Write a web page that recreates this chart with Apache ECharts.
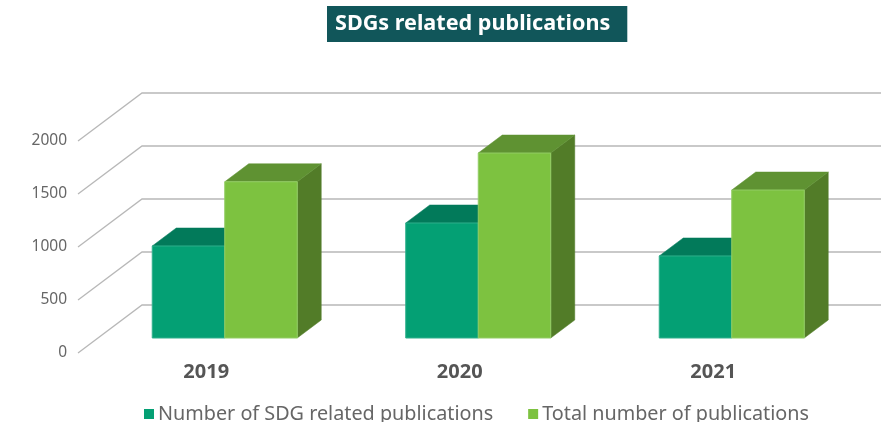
<!DOCTYPE html>
<html><head><meta charset="utf-8">
<style>html,body{margin:0;padding:0;background:#fff;overflow:hidden}#c{width:881px;height:422px}</style>
<script src="https://cdn.jsdelivr.net/npm/echarts@6/dist/echarts.min.js"></script>
</head><body><div id="c"></div>
<script>
const titleText = 'SDGs related publications';
const categories = ['2019', '2020', '2021'];
const yTicks = [0, 500, 1000, 1500, 2000];
const sdgName = 'Number of SDG related publications';
const totalName = 'Total number of publications';
const sdgValues = [868, 1085, 774];
const totalValues = [1474, 1745, 1396];

const chart = echarts.init(document.getElementById('c'), null, {renderer: 'canvas'});
// oblique projection, in pixels
const wallDX = 64, wallDY = 48, barOffX = 20, barOffY = 15, barDX = 24, barDY = 18, barRatio = 0.286;

function barRenderer(side, colors) {
  return function (params, api) {
    const base = api.coord([api.value(0), 0]);
    const top = api.coord([api.value(0), api.value(1)]);
    const w = api.size([1, 0])[0] * barRatio;
    const cx = base[0] + barOffX, y0 = base[1] - barOffY, y1 = top[1] - barOffY;
    const l = side < 0 ? cx - w : cx, r = l + w;
    const poly = (pts, fill, stroke) => ({type: 'polygon', shape: {points: pts}, style: {fill, stroke: stroke || fill, lineWidth: stroke ? 1 : 0.5}});
    return {type: 'group', children: [
      poly([[r, y0], [r + barDX, y0 - barDY], [r + barDX, y1 - barDY], [r, y1]], colors.side),
      poly([[l, y1], [r, y1], [r + barDX, y1 - barDY], [l + barDX, y1 - barDY]], colors.top),
      poly([[l, y0], [r, y0], [r, y1], [l, y1]], colors.front, colors.edge)
    ]};
  };
}
function gridRenderer(params, api) {
  const p = api.coord([0, api.value(1)]);
  const x0 = params.coordSys.x, y = p[1];
  return {type: 'polyline', shape: {points: [[x0, y], [x0 + wallDX, y - wallDY], [881, y - wallDY]]},
    style: {fill: 'none', stroke: '#b8b8b8', lineWidth: 1.3}, silent: true};
}
const sdgColors = {front: '#04a074', top: '#027a5a', side: '#02684d', edge: '#2fb08c'};
const totalColors = {front: '#7dc240', top: '#5f9232', side: '#527c28', edge: '#93cd65'};

chart.setOption({
  animation: false,
  backgroundColor: '#fff',
  title: {
    text: titleText, left: 327, top: 6,
    backgroundColor: '#11565a', padding: [6, 17, 7, 8],
    textStyle: {color: '#fff', fontFamily: 'Noto Sans', fontWeight: 'bold', fontSize: 21.6, lineHeight: 23}
  },
  legend: {
    left: 144, top: 404, padding: 0, itemWidth: 10, itemHeight: 10, itemGap: 35,
    icon: 'rect',
    data: [{name: sdgName, itemStyle: {color: sdgColors.front}}, {name: totalName, itemStyle: {color: totalColors.front}}],
    textStyle: {color: '#666', fontFamily: 'Noto Sans', fontSize: 19.8, padding: [0, 0, 0, -1]}
  },
  grid: {left: 78, top: 141, width: 760.5, height: 212},
  xAxis: {
    type: 'category', data: categories,
    axisLine: {show: false}, axisTick: {show: false},
    axisLabel: {color: '#555', fontFamily: 'Noto Sans', fontWeight: 'bold', fontSize: 20, margin: 9, padding: [0, 0, 0, 3]}
  },
  yAxis: {
    type: 'value', min: 0, max: 2000, interval: 500,
    axisLine: {show: false}, axisTick: {show: false}, splitLine: {show: false},
    axisLabel: {color: '#666', fontFamily: 'Noto Sans', fontSize: 15.5, margin: 11, padding: [0, 0, 6, 0],
      formatter: v => String(v)}
  },
  series: [
    {type: 'custom', name: 'grid', silent: true, clip: false, z: 1, renderItem: gridRenderer,
     data: yTicks.map(t => [0, t])},
    {type: 'custom', name: sdgName, clip: false, z: 2, itemStyle: {color: sdgColors.front},
     renderItem: barRenderer(-1, sdgColors), data: sdgValues.map((v, i) => [i, v])},
    {type: 'custom', name: totalName, clip: false, z: 3, itemStyle: {color: totalColors.front},
     renderItem: barRenderer(1, totalColors), data: totalValues.map((v, i) => [i, v])}
  ]
});
</script></body></html>
